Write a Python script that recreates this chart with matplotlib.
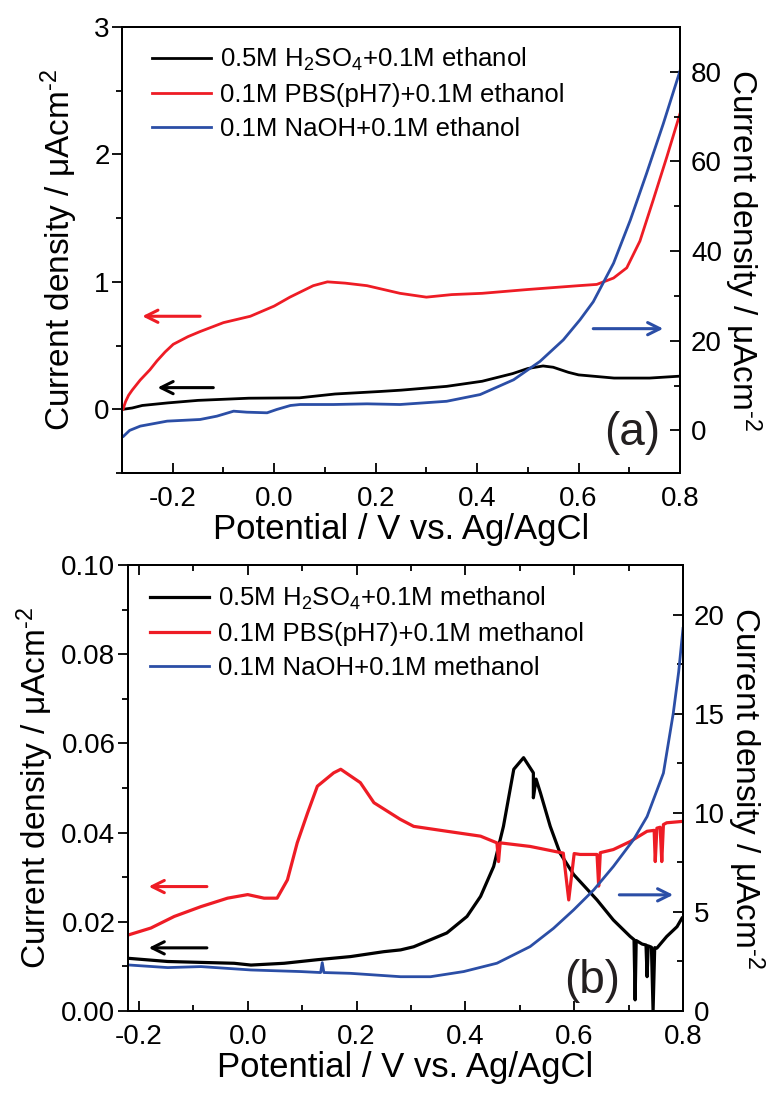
import matplotlib
matplotlib.use("Agg")
import matplotlib.pyplot as plt
from matplotlib.ticker import MultipleLocator, FormatStrFormatter

plt.rcParams['font.family'] = ['Liberation Sans', 'DejaVu Sans']
plt.rcParams['mathtext.fontset'] = 'custom'
plt.rcParams['mathtext.rm'] = 'Liberation Sans'
plt.rcParams['mathtext.default'] = 'regular'
plt.rcParams['axes.unicode_minus'] = False

RED = '#ee1c25'
BLUE = '#2b4ea6'
BLACK = '#000000'

# ---- panel (a): ethanol ----
a_h2so4_x = [-0.298, -0.28, -0.26, -0.21, -0.15, -0.05, 0.05, 0.12, 0.21, 0.25, 0.34,
             0.41, 0.47, 0.50, 0.53, 0.55, 0.58, 0.60, 0.67, 0.74, 0.80]
a_h2so4_y = [0.0, 0.01, 0.03, 0.05, 0.07, 0.087, 0.09, 0.12, 0.14, 0.15, 0.18,
             0.22, 0.28, 0.32, 0.34, 0.33, 0.29, 0.27, 0.245, 0.245, 0.26]

a_pbs_x = [-0.298, -0.293, -0.287, -0.28, -0.264, -0.245, -0.231, -0.215, -0.199, -0.17,
           -0.146, -0.10, -0.047, 0.0, 0.031, 0.077, 0.105, 0.14, 0.183, 0.248, 0.30,
           0.35, 0.41, 0.50, 0.60, 0.636, 0.669, 0.695, 0.721, 0.747, 0.774, 0.80]
a_pbs_y = [0.0, 0.06, 0.11, 0.15, 0.23, 0.31, 0.38, 0.45, 0.51, 0.57,
           0.61, 0.68, 0.73, 0.81, 0.88, 0.97, 1.0, 0.99, 0.97, 0.91, 0.88,
           0.90, 0.91, 0.94, 0.97, 0.98, 1.03, 1.11, 1.32, 1.64, 1.98, 2.32]

a_naoh_x = [-0.297, -0.285, -0.264, -0.211, -0.146, -0.113, -0.080, -0.054, -0.014, 0.005,
            0.032, 0.051, 0.117, 0.183, 0.248, 0.34, 0.406, 0.472, 0.524, 0.57, 0.603,
            0.629, 0.669, 0.702, 0.734, 0.767, 0.80]
a_naoh_y = [-1.3, 0.0, 0.96, 2.07, 2.44, 3.18, 4.29, 4.07, 3.93, 4.67,
            5.56, 5.78, 5.78, 5.93, 5.78, 6.5, 8.0, 11.3, 15.4, 20.2, 24.7,
            28.7, 37.3, 46.9, 57.3, 68.4, 80.2]

# ---- panel (b): methanol ----
b_h2so4_x = [-0.218, -0.147, -0.086, -0.025, 0.006, 0.067, 0.128, 0.189, 0.25, 0.281,
             0.305, 0.366, 0.403, 0.428, 0.452, 0.47, 0.489, 0.507, 0.525, 0.525, 0.53,
             0.538, 0.556, 0.574, 0.599, 0.642, 0.672, 0.703, 0.710, 0.712, 0.714,
             0.725, 0.732, 0.734, 0.736, 0.742, 0.745, 0.748, 0.752, 0.77, 0.789, 0.798]
b_h2so4_y = [0.0118, 0.0111, 0.0109, 0.0107, 0.0103, 0.0107, 0.0115, 0.0122, 0.0133, 0.0137,
             0.0144, 0.0175, 0.0212, 0.0257, 0.0324, 0.0414, 0.0542, 0.0568, 0.0534, 0.0478, 0.052,
             0.0489, 0.0414, 0.0354, 0.0306, 0.0249, 0.0204, 0.0167, 0.0160, 0.0025, 0.0158,
             0.0150, 0.0148, 0.0077, 0.0146, 0.0143, 0.0, 0.0142, 0.0141, 0.0167, 0.0189, 0.0208]

b_pbs_x = [-0.218, -0.178, -0.135, -0.086, -0.037, 0.0, 0.03, 0.054, 0.073, 0.091,
           0.11, 0.128, 0.158, 0.171, 0.207, 0.232, 0.28, 0.305, 0.366, 0.428, 0.458,
           0.461, 0.464, 0.519, 0.58, 0.59, 0.60, 0.611, 0.642, 0.645, 0.648, 0.672,
           0.703, 0.734, 0.747, 0.749, 0.752, 0.758, 0.761, 0.764, 0.77, 0.798]
b_pbs_y = [0.0171, 0.0186, 0.0212, 0.0234, 0.0253, 0.0261, 0.0253, 0.0253, 0.0294, 0.0377,
           0.0444, 0.0504, 0.0534, 0.0542, 0.0512, 0.0467, 0.0430, 0.0414, 0.0403, 0.0392, 0.0377,
           0.0335, 0.0377, 0.0369, 0.0354, 0.0249, 0.0353, 0.0351, 0.0351, 0.028, 0.0355, 0.0362,
           0.038, 0.0403, 0.0405, 0.0335, 0.041, 0.0412, 0.0335, 0.0418, 0.0422, 0.0425]

b_naoh_x = [-0.218, -0.147, -0.086, 0.006, 0.097, 0.134, 0.137, 0.140, 0.189, 0.281,
            0.336, 0.397, 0.458, 0.519, 0.562, 0.599, 0.636, 0.672, 0.709, 0.734,
            0.764, 0.782, 0.792, 0.80]
b_naoh_y = [2.32, 2.19, 2.24, 2.07, 1.99, 1.94, 2.44, 1.94, 1.9, 1.73,
            1.73, 1.99, 2.41, 3.25, 4.17, 5.1, 6.11, 7.29, 8.64, 9.81,
            12.0, 15.0, 17.1, 19.3]

labels_a = ['0.5M H$_2$SO$_4$+0.1M ethanol', '0.1M PBS(pH7)+0.1M ethanol',
            '0.1M NaOH+0.1M ethanol']
labels_b = ['0.5M H$_2$SO$_4$+0.1M methanol', '0.1M PBS(pH7)+0.1M methanol',
            '0.1M NaOH+0.1M methanol']

ylab = 'Current density / μAcm$^{\u20102}$'
xlab = 'Potential / V vs. Ag/AgCl'

W, H = 774, 1094
fig = plt.figure(figsize=(W / 100, H / 100), dpi=100)


def box(l, t, r, b):
    return [l / W, 1 - b / H, (r - l) / W, (b - t) / H]


def style(ax, axr, top_ticks):
    for a in (ax, axr):
        for s in a.spines.values():
            s.set_linewidth(1.4)
    ax.tick_params(axis='y', which='both', direction='out', labelsize=20, pad=2, width=1.3)
    ax.tick_params(axis='y', which='major', length=7)
    ax.tick_params(axis='y', which='minor', length=4)
    ax.tick_params(axis='x', which='both', direction='in', labelsize=20, pad=9,
                   width=1.3, top=top_ticks)
    ax.tick_params(axis='x', which='major', length=7)
    ax.tick_params(axis='x', which='minor', length=4)
    axr.tick_params(axis='y', which='both', direction='in', labelsize=20, pad=8, width=1.3)
    axr.tick_params(axis='y', which='major', length=7)
    axr.tick_params(axis='y', which='minor', length=4)


def arrow(ax, x0, x1, y, c):
    ax.annotate('', xy=(x1, y), xytext=(x0, y),
                arrowprops=dict(arrowstyle='->', color=c, lw=2.2, mutation_scale=22,
                                shrinkA=0, shrinkB=0))


legend_kw = dict(loc='upper left', frameon=False, fontsize=18.5, handlelength=2.3,
                 handletextpad=0.35, labelspacing=0.38, borderpad=0, borderaxespad=0)

# panel (a)
ax = fig.add_axes(box(122, 27, 680, 473))
axr = ax.twinx()
l1, = ax.plot(a_h2so4_x, a_h2so4_y, color=BLACK, lw=2)
l2, = ax.plot(a_pbs_x, a_pbs_y, color=RED, lw=2)
l3, = axr.plot(a_naoh_x, a_naoh_y, color=BLUE, lw=2)
ax.set_xlim(-0.3, 0.8)
ax.set_ylim(-0.5, 3)
axr.set_ylim(-9.5, 90)
ax.xaxis.set_major_locator(MultipleLocator(0.2))
ax.xaxis.set_minor_locator(MultipleLocator(0.1))
ax.yaxis.set_minor_locator(MultipleLocator(0.5))
axr.yaxis.set_minor_locator(MultipleLocator(10))
ax.set_yticks([0, 1, 2, 3])
axr.set_yticks([0, 20, 40, 60, 80])
ax.xaxis.set_major_formatter(FormatStrFormatter('%.1f'))
style(ax, axr, False)
ax.set_xlabel(xlab, fontsize=25, labelpad=1)
ax.set_ylabel(ylab, fontsize=24, labelpad=10)
axr.set_ylabel(ylab, fontsize=24, rotation=270, labelpad=30)
axr.legend([l1, l2, l3], labels_a, bbox_to_anchor=(0.054, 0.957), **legend_kw)
arrow(ax, -0.146, -0.26, 0.73, RED)
arrow(ax, -0.12, -0.23, 0.17, BLACK)
arrow(axr, 0.629, 0.767, 22.7, BLUE)
ax.text(0.914, 0.09, '(a)', transform=ax.transAxes, fontsize=33, color='#231f20',
        ha='center', va='center')

# panel (b)
bx = fig.add_axes(box(128, 565, 683, 1011))
bxr = bx.twinx()
m1, = bx.plot(b_h2so4_x, b_h2so4_y, color=BLACK, lw=2.3)
m2, = bx.plot(b_pbs_x, b_pbs_y, color=RED, lw=2.3)
m3, = bxr.plot(b_naoh_x, b_naoh_y, color=BLUE, lw=2)
bx.set_xlim(-0.22, 0.8)
bx.set_ylim(0, 0.1)
bxr.set_ylim(0, 22.5)
bx.xaxis.set_major_locator(MultipleLocator(0.2))
bx.xaxis.set_minor_locator(MultipleLocator(0.1))
bx.yaxis.set_major_locator(MultipleLocator(0.02))
bx.yaxis.set_minor_locator(MultipleLocator(0.01))
bxr.yaxis.set_major_locator(MultipleLocator(5))
bxr.yaxis.set_minor_locator(MultipleLocator(2.5))
bx.xaxis.set_major_formatter(FormatStrFormatter('%.1f'))
bx.yaxis.set_major_formatter(FormatStrFormatter('%.2f'))
style(bx, bxr, True)
bx.set_xlabel(xlab, fontsize=25, labelpad=1)
bx.set_ylabel(ylab, fontsize=24, labelpad=4)
bxr.set_ylabel(ylab, fontsize=24, rotation=270, labelpad=30)
bxr.legend([m1, m2, m3], labels_b, bbox_to_anchor=(0.04, 0.955), **legend_kw)
arrow(bx, -0.075, -0.182, 0.0279, RED)
arrow(bx, -0.075, -0.182, 0.01416, BLACK)
arrow(bxr, 0.683, 0.782, 5.86, BLUE)
bx.text(0.836, 0.067, '(b)', transform=bx.transAxes, fontsize=33, color='#231f20',
        ha='center', va='center')

fig.savefig('out.png', dpi=100)
